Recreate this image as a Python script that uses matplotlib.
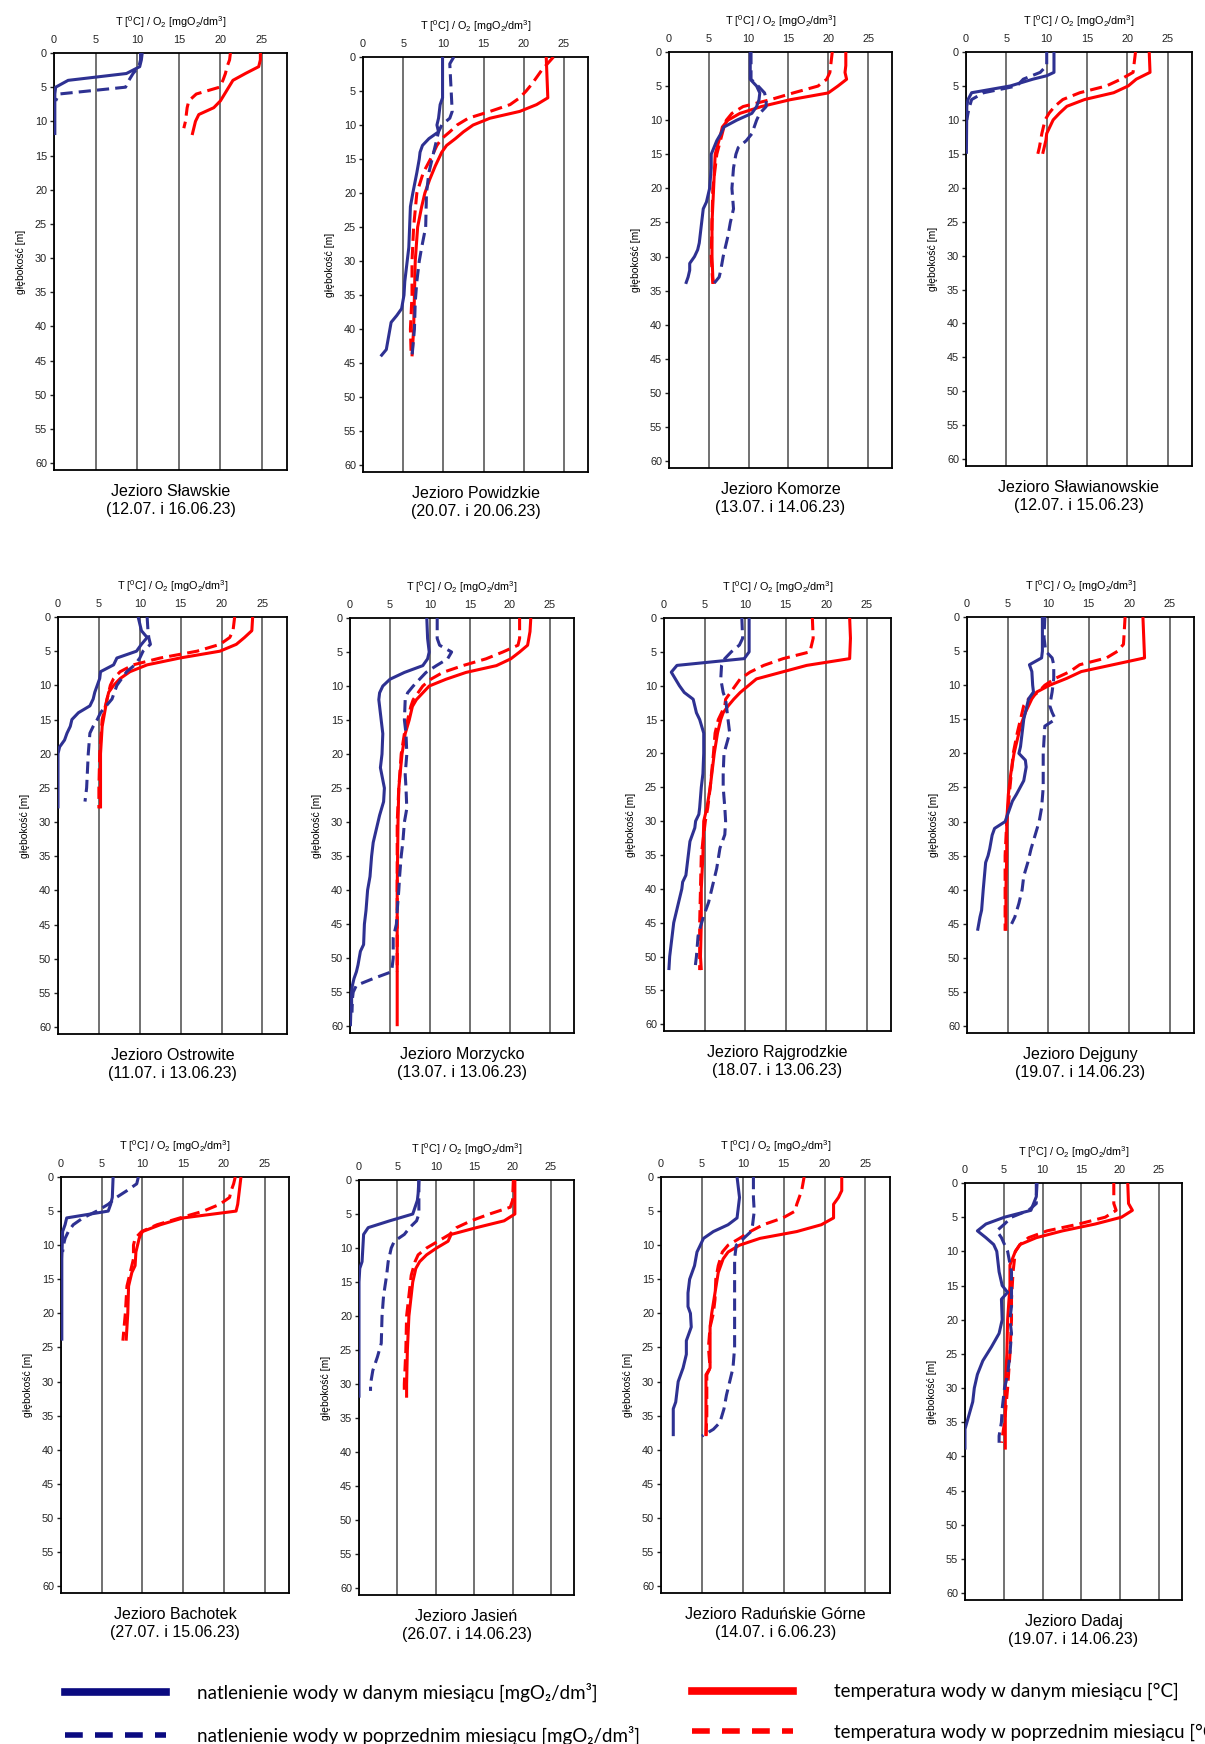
import matplotlib
matplotlib.use('Agg')
from matplotlib import pyplot as plt
from matplotlib.lines import Line2D

plt.rcParams['font.family'] = ['Liberation Sans', 'DejaVu Sans']
plt.rcParams['mathtext.fontset'] = 'custom'
plt.rcParams['mathtext.rm'] = 'Liberation Sans'
plt.rcParams['mathtext.it'] = 'Liberation Sans:italic'
plt.rcParams['mathtext.bf'] = 'Liberation Sans:bold'

# (depth [m], value) pairs
# o2 = oxygen now, o2p = oxygen previous month, t = temperature now, tp = temperature previous month

slaw_o2 = [(0, 10.6), (1, 10.5), (2, 10.3), (3, 8.7), (4, 1.7), (5, 0.2), (6, 0.1), (12, 0.1)]
slaw_o2p = [(0, 10.4), (1, 10.4), (2, 10.2), (3, 9.5), (4, 9.0), (5, 8.6), (6, 0.6), (7, 0.2)]
slaw_t = [(0, 24.8), (1, 24.8), (2, 24.6), (3, 23.0), (4, 21.5), (5, 21.0), (6, 20.5), (7, 20.0),
          (8, 19.2), (9, 17.4), (10, 17.0), (11, 16.8), (12, 16.6)]
slaw_tp = [(0, 21.2), (1, 21.1), (2, 20.8), (3, 20.6), (4, 20.3), (5, 19.9), (6, 17.1), (7, 16.2),
           (8, 16.0), (10, 15.8), (11, 15.6)]

pow_o2 = [(0, 9.9), (6, 9.9), (7, 9.6), (8, 9.5), (9, 9.4), (10, 9.2), (11, 9.4), (12, 8.2), (13, 7.4),
          (14, 7.1), (15, 7.0), (17, 6.7), (20, 6.2), (22, 5.9), (25, 5.8), (28, 5.7), (30, 5.5),
          (33, 5.2), (35, 5.1), (37, 4.8), (38, 4.2), (39, 3.5), (41, 3.2), (43, 2.9), (44, 2.2)]
pow_o2p = [(0, 11.3), (1, 10.8), (8, 11.1), (9, 10.8), (10, 9.8), (11, 9.4), (12, 9.2), (14, 8.8),
           (17, 8.2), (20, 7.9), (25, 7.8), (28, 7.3), (30, 7.0), (33, 6.7), (36, 6.5), (40, 6.4), (44, 6.1)]
pow_t = [(0, 22.8), (6, 23.0), (7, 21.6), (8, 19.5), (9, 15.8), (10, 13.7), (11, 12.5), (12, 11.5),
         (13, 10.4), (14, 9.8), (16, 9.0), (18, 8.3), (20, 7.7), (22, 7.3), (25, 6.8), (30, 6.5),
         (35, 6.4), (40, 6.3), (44, 6.1)]
pow_tp = [(0, 23.7), (2, 22.2), (4, 21.0), (5, 20.3), (6, 19.5), (7, 18.3), (8, 15.8), (9, 13.1),
          (10, 11.7), (11, 10.8), (12, 9.8), (13, 9.2), (15, 8.4), (17, 7.5), (20, 6.7), (25, 6.3),
          (30, 6.1), (35, 6.1), (40, 5.9), (44, 6.0)]

kom_o2 = [(0, 10.2), (4, 10.2), (5, 11.0), (6, 11.4), (7, 11.3), (8, 11.0), (9, 10.4), (10, 8.5),
          (11, 6.9), (12, 6.5), (13, 6.0), (15, 5.3), (17, 5.3), (20, 5.1), (22, 4.7), (23, 4.3),
          (25, 4.1), (28, 3.8), (29, 3.6), (30, 3.2), (31, 2.6), (32, 2.6), (33, 2.4), (34, 2.1)]
kom_o2p = [(0, 10.3), (4, 10.3), (5, 11.2), (6, 12.0), (7, 12.2), (8, 12.2), (9, 11.4), (10, 11.0),
           (12, 10.4), (13, 9.7), (14, 8.7), (15, 8.4), (17, 8.1), (20, 7.9), (23, 8.1), (25, 7.7),
           (27, 7.4), (30, 6.8), (32, 6.5), (33, 6.3), (34, 5.6)]
kom_t = [(0, 22.2), (2, 22.2), (3, 22.1), (4, 22.3), (5, 21.2), (6, 20.0), (7, 15.2), (8, 11.6),
         (9, 8.9), (10, 7.4), (11, 6.7), (12, 6.5), (15, 5.8), (20, 5.6), (25, 5.4), (30, 5.4),
         (33, 5.5), (34, 5.6)]
kom_tp = [(0, 20.5), (3, 20.2), (4, 19.8), (5, 18.7), (6, 15.6), (7, 12.7), (8, 9.3), (9, 7.9),
          (10, 7.2), (11, 6.9), (15, 6.0), (20, 5.5), (25, 5.4), (30, 5.3), (34, 5.5)]

swn_o2 = [(0, 10.9), (3, 10.9), (3.5, 10.0), (4, 8.3), (5, 5.5), (6, 0.7), (7, 0.25), (8, 0.1), (15, 0.05)]
swn_o2p = [(0, 10.0), (2, 10.0), (3, 9.2), (4, 7.1), (5, 6.3), (6, 2.2), (7, 0.7), (8, 0.45), (9, 0.25), (10, 0.1)]
swn_t = [(0, 22.7), (3, 22.8), (4, 21.1), (5, 20.1), (6, 18.3), (7, 14.7), (8, 12.5), (9, 11.6),
         (10, 10.8), (12, 10.0), (13, 9.9), (15, 9.5)]
swn_tp = [(0, 21.0), (2, 20.8), (3, 20.7), (4, 19.2), (5, 17.4), (6, 14.1), (7, 12.0), (8, 11.0),
          (9, 10.3), (10, 9.8), (12, 9.4), (14, 9.1), (15, 8.9)]

ost_o2 = [(0, 9.8), (1, 10.0), (2, 10.2), (3, 10.9), (4, 10.2), (5, 9.6), (6, 7.2), (7, 6.8), (8, 5.2),
          (9, 5.1), (10, 4.8), (11, 4.5), (12, 4.3), (13, 3.9), (14, 2.5), (15, 1.7), (16, 1.5),
          (17, 1.1), (18, 0.8), (19, 0.2), (20, 0.0), (28, 0.0)]
ost_o2p = [(0, 10.9), (2, 11.0), (3, 11.1), (4, 11.3), (5, 10.4), (6, 10.0), (7, 9.4), (8, 8.4),
           (9, 7.8), (10, 7.2), (11, 6.9), (12, 6.6), (13, 5.9), (14, 5.2), (15, 4.8), (16, 4.3),
           (17, 3.9), (20, 3.7), (25, 3.5), (27, 3.3)]
ost_t = [(0, 23.8), (2, 23.7), (3, 22.8), (4, 21.8), (5, 19.8), (6, 14.9), (7, 10.9), (8, 8.8),
         (9, 7.6), (10, 6.8), (11, 6.2), (12, 6.0), (14, 5.7), (16, 5.4), (20, 5.2), (25, 5.2), (28, 5.2)]
ost_tp = [(0, 21.6), (2, 21.4), (3, 21.0), (4, 19.8), (5, 17.0), (6, 12.5), (7, 9.2), (8, 7.6),
          (9, 6.8), (10, 6.4), (11, 6.2), (13, 5.8), (15, 5.4), (20, 5.1), (25, 5.0), (28, 5.0)]

mor_o2 = [(0, 9.6), (3, 9.7), (5, 9.9), (6, 9.7), (7, 9.1), (8, 6.8), (9, 5.0), (10, 4.1), (11, 3.7),
          (12, 3.6), (15, 3.9), (17, 4.1), (20, 4.0), (22, 3.8), (25, 4.3), (27, 4.2), (29, 3.7),
          (31, 3.3), (33, 2.9), (35, 2.7), (38, 2.5), (40, 2.2), (43, 2.0), (45, 1.8), (48, 1.7),
          (49, 1.3), (51, 1.0), (52, 0.8), (53, 0.5), (54, 0.3), (55, 0.2), (57, 0.2), (58, 0.1), (60, 0.05)]
mor_o2p = [(0, 10.9), (3, 10.9), (4, 11.2), (5, 12.7), (6, 12.2), (7, 10.8), (8, 9.5), (9, 8.7),
           (10, 7.9), (11, 7.2), (12, 6.9), (15, 6.8), (17, 7.0), (20, 7.1), (23, 6.9), (25, 7.0),
           (28, 7.1), (30, 6.8), (33, 6.6), (35, 6.4), (38, 6.2), (40, 6.1), (43, 5.9), (45, 5.8),
           (47, 5.4), (50, 5.4), (52, 5.2), (53, 2.9), (54, 0.8), (55, 0.4), (56, 0.3), (58, 0.25)]
mor_t = [(0, 22.6), (2, 22.5), (4, 22.2), (5, 21.2), (6, 20.1), (7, 18.3), (8, 14.5), (9, 12.0),
         (10, 9.9), (11, 9.1), (12, 8.3), (13, 7.8), (15, 7.4), (17, 6.9), (20, 6.5), (25, 6.1),
         (30, 6.0), (40, 5.9), (50, 5.9), (60, 5.9)]
mor_tp = [(0, 21.2), (3, 21.2), (4, 21.0), (5, 19.1), (6, 17.0), (7, 14.1), (8, 11.6), (9, 10.1),
          (10, 9.1), (11, 8.5), (12, 7.9), (13, 7.6), (15, 7.2), (17, 6.8), (20, 6.4), (25, 6.1),
          (30, 5.9), (40, 5.9), (52, 5.9)]

raj_o2 = [(0, 10.5), (5, 10.5), (6, 9.9), (7, 1.6), (8, 0.9), (9, 1.4), (10, 1.9), (11, 2.5), (12, 3.6),
          (13, 3.8), (14, 4.0), (15, 4.4), (17, 4.9), (20, 4.9), (23, 4.8), (25, 4.6), (28, 4.4),
          (29, 4.3), (30, 3.9), (31, 3.8), (33, 3.2), (35, 3.0), (38, 2.7), (39, 2.3), (40, 2.2),
          (42, 1.8), (45, 1.2), (48, 0.9), (50, 0.7), (52, 0.6)]
raj_o2p = [(0, 9.6), (3, 9.7), (4, 9.3), (5, 8.3), (6, 7.5), (7, 7.1), (9, 7.0), (11, 7.3), (12, 7.6),
           (15, 7.9), (17, 8.1), (20, 7.4), (23, 7.3), (25, 7.3), (28, 7.5), (30, 7.6), (32, 7.5),
           (34, 6.9), (37, 6.5), (40, 5.9), (42, 5.5), (44, 4.9), (46, 4.4), (47, 4.2), (50, 4.0), (52, 3.8)]
raj_t = [(0, 22.9), (3, 23.0), (6, 22.9), (7, 17.6), (8, 14.5), (9, 11.4), (10, 10.4), (11, 9.4),
         (12, 8.6), (13, 7.9), (14, 7.3), (15, 7.0), (17, 6.6), (20, 6.2), (23, 5.9), (25, 5.7),
         (28, 5.3), (30, 4.9), (35, 4.8), (40, 4.6), (45, 4.6), (50, 4.5), (52, 4.6)]
raj_tp = [(0, 18.3), (3, 18.4), (5, 18.0), (6, 14.7), (7, 12.3), (8, 10.6), (9, 9.4), (10, 8.8),
          (12, 7.6), (13, 7.5), (14, 7.1), (15, 6.7), (17, 6.3), (20, 6.1), (25, 5.7), (28, 5.4),
          (30, 5.1), (35, 4.6), (40, 4.5), (45, 4.4), (50, 4.4), (52, 4.4)]

dej_o2 = [(0, 9.3), (5, 9.3), (6, 9.2), (7, 7.7), (8, 8.0), (10, 8.1), (11, 8.2), (12, 7.6), (15, 7.0),
          (17, 6.8), (19, 6.6), (20, 6.4), (21, 7.2), (22, 7.3), (24, 7.0), (26, 6.1), (27, 5.6),
          (28, 5.3), (30, 4.7), (31, 3.4), (32, 3.1), (34, 2.8), (35, 2.6), (36, 2.3), (40, 2.0),
          (43, 1.8), (44, 1.6), (46, 1.3)]
dej_o2p = [(0, 9.6), (3, 9.5), (5, 9.7), (6, 10.5), (7, 10.7), (9, 10.7), (11, 10.5), (13, 10.2),
           (14, 10.5), (15, 10.9), (16, 9.6), (20, 9.4), (25, 9.4), (28, 9.2), (30, 8.9), (32, 8.4),
           (34, 7.9), (36, 7.5), (38, 7.0), (40, 6.8), (42, 6.4), (44, 5.9), (45, 5.5)]
dej_t = [(0, 21.7), (3, 21.8), (6, 21.9), (7, 18.0), (8, 14.1), (9, 12.3), (10, 10.2), (11, 8.6),
         (12, 8.0), (14, 7.2), (16, 6.6), (18, 6.2), (20, 5.8), (23, 5.4), (26, 5.1), (30, 4.9),
         (35, 4.9), (40, 4.8), (46, 4.8)]
dej_tp = [(0, 19.5), (2, 19.4), (4, 19.3), (5, 18.6), (6, 17.2), (7, 13.9), (8, 12.7), (9, 10.9),
          (10, 9.6), (11, 8.8), (12, 7.6), (13, 7.0), (15, 6.6), (17, 6.2), (20, 5.7), (25, 5.3),
          (30, 4.9), (35, 4.7), (40, 4.7), (46, 4.7)]

bac_o2 = [(0, 6.4), (3, 6.3), (4, 6.1), (5, 5.8), (6, 0.7), (7, 0.5), (8, 0.2), (12, 0.1), (24, 0.1)]
bac_o2p = [(0, 9.5), (1, 9.3), (2, 8.1), (3, 6.8), (4, 5.8), (5, 4.4), (6, 2.7), (7, 1.5), (8, 0.9),
           (9, 0.5), (10, 0.3), (11, 0.2)]
bac_t = [(0, 22.1), (2, 21.9), (4, 21.7), (5, 21.5), (6, 15.0), (7, 12.2), (8, 10.0), (9, 9.6),
         (11, 9.2), (13, 9.1), (14, 8.7), (16, 8.3), (20, 8.2), (24, 8.0)]
bac_tp = [(0, 21.4), (1, 21.2), (2, 20.9), (3, 20.7), (4, 19.5), (5, 17.5), (6, 14.6), (7, 11.8),
          (8, 9.9), (9, 9.1), (10, 8.9), (12, 8.9), (14, 8.5), (16, 8.1), (20, 7.9), (24, 7.6)]

jas_o2 = [(0, 7.8), (2, 7.7), (3, 7.6), (4, 7.3), (5, 7.0), (6, 4.0), (7, 1.2), (8, 0.6), (10, 0.5),
          (12, 0.4), (13, 0.1), (15, 0.0), (32, 0.0)]
jas_o2p = [(0, 7.8), (3, 7.8), (5, 7.8), (6, 7.5), (7, 6.6), (8, 5.9), (9, 4.6), (10, 4.2), (12, 3.8),
           (14, 3.6), (17, 3.2), (20, 3.0), (24, 2.9), (26, 2.4), (28, 1.8), (30, 1.5), (31, 1.5)]
jas_t = [(0, 20.3), (3, 20.3), (5, 20.3), (6, 18.9), (7, 15.3), (8, 12.0), (9, 11.6), (10, 10.1),
         (11, 8.8), (12, 7.9), (13, 7.4), (15, 7.0), (17, 6.8), (20, 6.5), (25, 6.3), (30, 6.2), (32, 6.2)]
jas_tp = [(0, 20.1), (3, 20.0), (4, 19.7), (5, 17.0), (6, 14.6), (7, 12.7), (8, 11.8), (9, 10.3),
          (10, 8.8), (11, 7.7), (12, 7.3), (14, 6.8), (17, 6.5), (20, 6.2), (25, 6.1), (30, 5.9), (31, 5.9)]

rad_o2 = [(0, 9.3), (3, 9.6), (5, 9.4), (6, 9.3), (7, 8.2), (8, 6.4), (9, 5.2), (10, 4.8), (11, 4.4),
          (13, 4.1), (15, 3.5), (17, 3.3), (19, 3.3), (20, 3.6), (22, 3.7), (24, 3.1), (26, 3.1),
          (28, 2.7), (30, 2.1), (33, 1.8), (34, 1.5), (38, 1.5)]
rad_o2p = [(0, 11.3), (3, 11.3), (5, 11.4), (7, 11.2), (8, 11.0), (9, 10.1), (10, 9.2), (12, 9.0),
           (15, 9.0), (20, 9.0), (25, 9.0), (28, 8.8), (30, 8.4), (32, 8.0), (34, 7.7), (36, 7.2),
           (37, 6.4), (38, 5.0)]
rad_t = [(0, 22.1), (2, 22.1), (3, 21.7), (4, 21.1), (6, 21.1), (7, 19.6), (8, 16.6), (9, 12.1),
         (10, 9.6), (11, 8.2), (12, 7.6), (14, 7.0), (17, 6.6), (20, 6.2), (22, 6.0), (28, 6.0),
         (29, 5.5), (35, 5.5), (38, 5.5)]
rad_tp = [(0, 17.5), (2, 17.2), (3, 16.9), (4, 16.6), (5, 16.4), (6, 14.9), (7, 12.5), (8, 10.9),
          (9, 9.6), (10, 8.2), (11, 7.5), (13, 7.0), (15, 6.7), (18, 6.6), (20, 6.4), (22, 6.0),
          (25, 5.8), (28, 6.0), (29, 5.6), (35, 5.6), (38, 5.5)]

dad_o2 = [(0, 9.3), (2, 9.2), (4, 8.5), (5, 5.1), (6, 2.7), (7, 1.6), (8, 2.7), (9, 3.7), (10, 4.1),
          (13, 4.4), (15, 4.8), (16, 5.5), (17, 4.7), (20, 4.8), (22, 4.4), (24, 3.4), (26, 2.3),
          (28, 1.6), (30, 1.2), (32, 1.0), (34, 0.5), (36, 0.0), (39, 0.0)]
dad_o2p = [(0, 9.2), (3, 9.2), (4, 8.2), (5, 6.0), (6, 5.1), (7, 4.1), (8, 4.7), (10, 5.5), (13, 6.0),
           (15, 6.0), (18, 6.0), (20, 5.8), (22, 6.0), (25, 5.8), (28, 5.5), (30, 5.1), (33, 4.8),
           (35, 4.7), (37, 4.4), (38, 4.4)]
dad_t = [(0, 21.0), (3, 21.1), (4, 21.6), (5, 20.2), (6, 16.8), (7, 12.6), (8, 9.2), (9, 7.1),
         (10, 6.5), (12, 5.8), (15, 5.8), (20, 5.5), (25, 5.4), (30, 5.2), (35, 5.2), (39, 5.2)]
dad_tp = [(0, 19.2), (3, 19.2), (4, 19.5), (5, 18.1), (6, 14.7), (7, 10.6), (8, 8.2), (9, 7.1),
          (10, 6.5), (13, 6.2), (17, 6.0), (20, 6.0), (25, 5.8), (30, 5.5), (35, 5.1), (38, 4.7)]

lake_names = ['Jezioro Sławskie', 'Jezioro Powidzkie', 'Jezioro Komorze', 'Jezioro Sławianowskie',
              'Jezioro Ostrowite', 'Jezioro Morzycko', 'Jezioro Rajgrodzkie', 'Jezioro Dejguny',
              'Jezioro Bachotek', 'Jezioro Jasień', 'Jezioro Raduńskie Górne', 'Jezioro Dadaj']
lake_dates = ['(12.07. i 16.06.23)', '(20.07. i 20.06.23)', '(13.07. i 14.06.23)', '(12.07. i 15.06.23)',
              '(11.07. i 13.06.23)', '(13.07. i 13.06.23)', '(18.07. i 13.06.23)', '(19.07. i 14.06.23)',
              '(27.07. i 15.06.23)', '(26.07. i 14.06.23)', '(14.07. i 6.06.23)', '(19.07. i 14.06.23)']
lake_series = [
    (slaw_o2, slaw_o2p, slaw_t, slaw_tp), (pow_o2, pow_o2p, pow_t, pow_tp),
    (kom_o2, kom_o2p, kom_t, kom_tp), (swn_o2, swn_o2p, swn_t, swn_tp),
    (ost_o2, ost_o2p, ost_t, ost_tp), (mor_o2, mor_o2p, mor_t, mor_tp),
    (raj_o2, raj_o2p, raj_t, raj_tp), (dej_o2, dej_o2p, dej_t, dej_tp),
    (bac_o2, bac_o2p, bac_t, bac_tp), (jas_o2, jas_o2p, jas_t, jas_tp),
    (rad_o2, rad_o2p, rad_t, rad_tp), (dad_o2, dad_o2p, dad_t, dad_tp),
]
x_ticks = [0, 5, 10, 15, 20, 25]
y_ticks = list(range(0, 61, 5))

legend_labels = ['natlenienie wody w danym miesiącu [mgO₂/dm³]',
                 'natlenienie wody w poprzednim miesiącu [mgO₂/dm³]',
                 'temperatura wody w danym miesiącu [°C]',
                 'temperatura wody w poprzednim miesiącu [°C]']

# layout in pixels: left, right, top, bottom of each plot box
W, H = 1205, 1744
boxes = [(54, 287, 53, 470), (363, 588, 57, 472), (669, 892, 52, 468), (966, 1192, 52, 466),
         (58, 287, 617, 1034), (350, 574, 618, 1033), (664, 891, 618, 1031), (967, 1194, 617, 1033),
         (61, 289, 1177, 1593), (359, 574, 1180, 1595), (661, 890, 1177, 1593), (965, 1182, 1183, 1600)]

BLUE = '#2E3192'
RED = '#FF0000'
DASH = (0, (4, 2))

fig = plt.figure(figsize=(W / 100, H / 100), dpi=100)

for i, (l, r, t, b) in enumerate(boxes):
    ax = fig.add_axes([l / W, 1 - b / H, (r - l) / W, (b - t) / H])
    o2, o2p, tt, ttp = lake_series[i]
    for pts, col, ls in [(ttp, RED, DASH), (tt, RED, '-'), (o2p, BLUE, DASH), (o2, BLUE, '-')]:
        z = [p[0] for p in pts]
        v = [p[1] for p in pts]
        ax.plot(v, z, color=col, lw=2.2, ls=ls, zorder=3, solid_capstyle='butt')

    ax.set_xlim(0, 28)
    ax.set_ylim(61, 0)
    ax.xaxis.tick_top()
    ax.xaxis.set_label_position('top')
    ax.set_xticks(x_ticks)
    ax.set_yticks(y_ticks)
    ax.tick_params(axis='x', length=0, pad=6, labelsize=7.8, colors='#222222')
    ax.tick_params(axis='y', length=3, width=1, direction='out', pad=2, labelsize=7.8, colors='#222222')
    ax.grid(axis='x', color='#4a4a4a', lw=1.1, zorder=1)
    for s in ax.spines.values():
        s.set_linewidth(1.3)
        s.set_color('black')
    ax.set_xlabel(r'T [$^{0}$C] / O$_{2}$ [mgO$_{2}$/dm$^{3}$]', fontsize=7.8, labelpad=6)
    ax.set_ylabel('głębokość [m]', fontsize=7.5, labelpad=6)
    ax.text(0.5, -0.033, lake_names[i] + '\n' + lake_dates[i], transform=ax.transAxes,
            ha='center', va='top', fontsize=11.5, linespacing=1.3)

leg_font = {'family': ['Lato', 'DejaVu Sans'], 'size': 13.5}
blue_handles = [Line2D([], [], color='#0A0A80', lw=5.5), Line2D([], [], color='#0A0A80', lw=4, ls=(0, (3.2, 2.2)))]
red_handles = [Line2D([], [], color=RED, lw=5.5), Line2D([], [], color=RED, lw=4, ls=(0, (3.2, 2.2)))]
fig.legend(blue_handles, legend_labels[:2], loc='upper left', bbox_to_anchor=(65 / W, 1 - 1683 / H),
           frameon=False, prop=leg_font, handlelength=5.4, handletextpad=1.65, labelspacing=1.25,
           borderpad=0, borderaxespad=0)
fig.legend(red_handles, legend_labels[2:], loc='upper left', bbox_to_anchor=(692 / W, 1 - 1683 / H),
           frameon=False, prop=leg_font, handlelength=5.4, handletextpad=2.2, labelspacing=1.25,
           borderpad=0, borderaxespad=0)

plt.savefig('out.png', dpi=100)
